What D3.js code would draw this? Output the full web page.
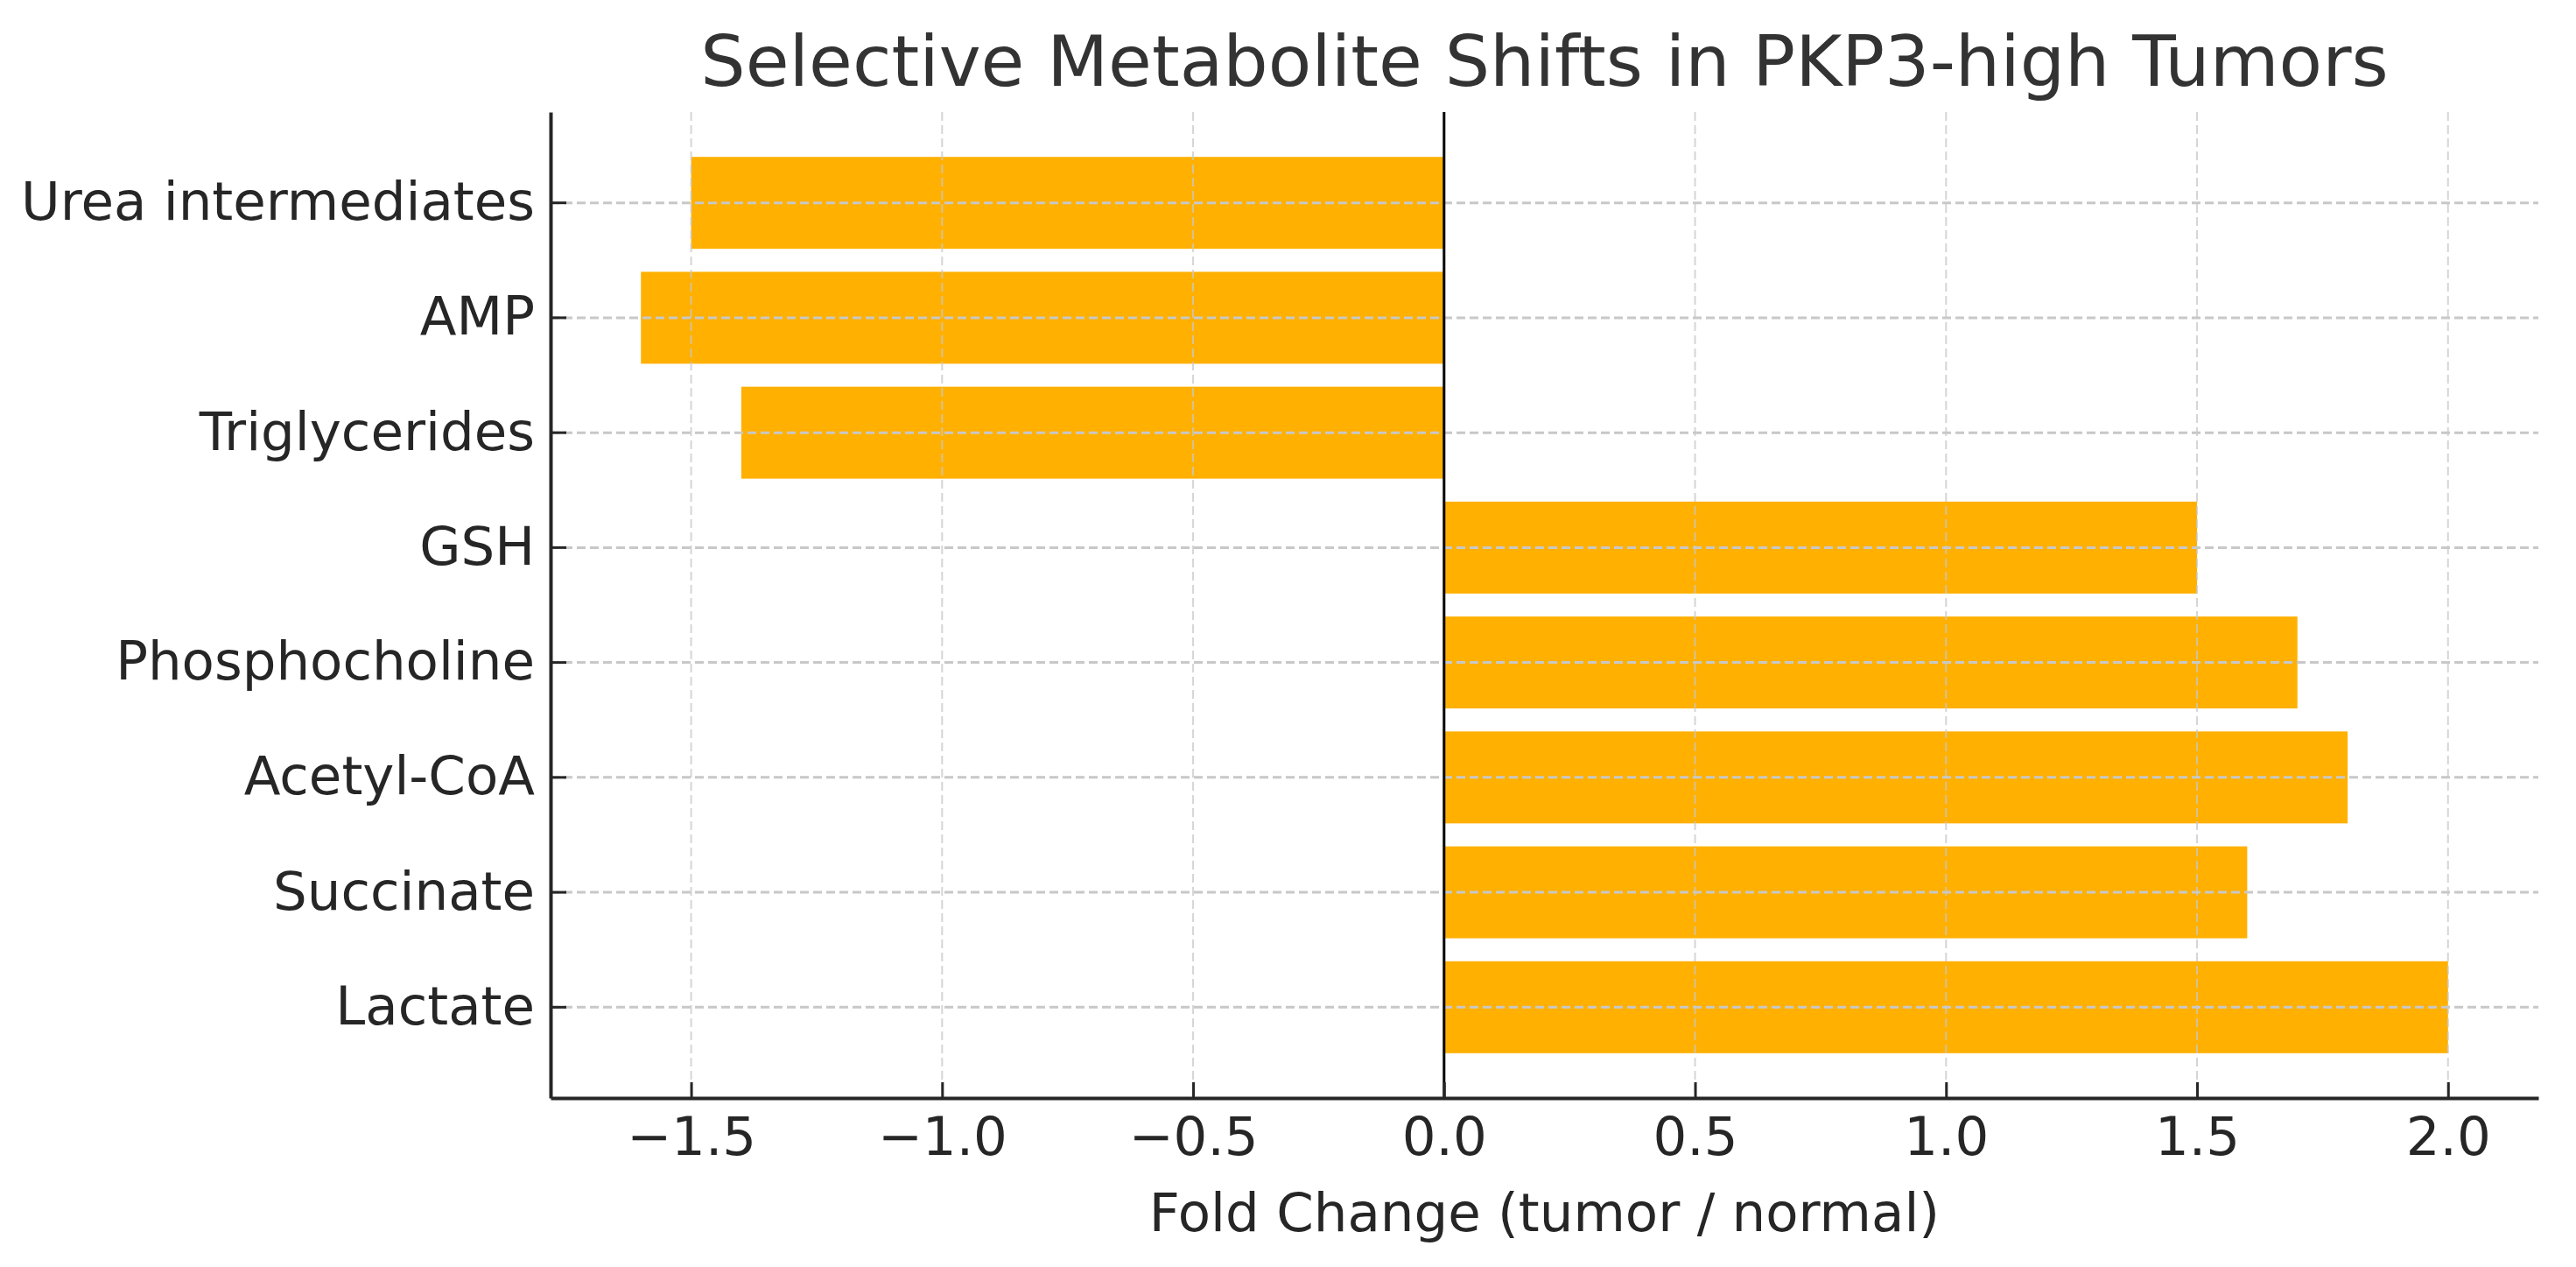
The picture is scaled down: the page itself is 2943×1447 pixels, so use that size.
<!DOCTYPE html>
<html>
<head>
<meta charset="utf-8">
<script src="https://cdn.jsdelivr.net/npm/d3@7"></script>
<style>
  body { margin: 0; background: #fff; }
  text { font-family: "DejaVu Sans", sans-serif; }
</style>
</head>
<body>
<svg id="chart" width="2943" height="1447"></svg>
<script>
// data, bottom to top as plotted
var metabolites = ["Lactate", "Succinate", "Acetyl-CoA", "Phosphocholine", "GSH", "Triglycerides", "AMP", "Urea intermediates"];
var foldChange = [2.0, 1.6, 1.8, 1.7, 1.5, -1.4, -1.6, -1.5];
var xTicks = [-1.5, -1.0, -0.5, 0.0, 0.5, 1.0, 1.5, 2.0];

var W = 2943, H = 1447;
var margin = {top: 128, right: 43, bottom: 193, left: 629};
var svg = d3.select("#chart");

var x = d3.scaleLinear().domain([-1.78, 2.18]).range([margin.left, W - margin.right]);
var y = d3.scaleBand()
  .domain(metabolites.slice().reverse())
  .range([margin.top, H - margin.bottom])
  .paddingInner(0.2)
  .paddingOuter(0.39);

var rows = metabolites.map(function (m, i) { return {name: m, value: foldChange[i]}; });

// bars
svg.append("g").selectAll("rect").data(rows).enter().append("rect")
  .attr("x", function (d) { return x(Math.min(0, d.value)); })
  .attr("y", function (d) { return y(d.name); })
  .attr("width", function (d) { return Math.abs(x(d.value) - x(0)); })
  .attr("height", y.bandwidth())
  .attr("fill", "#ffb000");

// grid (drawn above bars, like the original)
var grid = svg.append("g").attr("stroke", "#c8c8c8").attr("stroke-dasharray", "10,5");
grid.selectAll("line.v").data(xTicks).enter().append("line")
  .attr("class", "v")
  .attr("x1", function (d) { return x(d); }).attr("x2", function (d) { return x(d); })
  .attr("y1", margin.top).attr("y2", H - margin.bottom)
  .attr("stroke-width", 2).attr("opacity", 0.75);
grid.selectAll("line.h").data(metabolites).enter().append("line")
  .attr("class", "h")
  .attr("x1", margin.left).attr("x2", W - margin.right)
  .attr("y1", function (d) { return y(d) + y.bandwidth() / 2; })
  .attr("y2", function (d) { return y(d) + y.bandwidth() / 2; })
  .attr("stroke-width", 3);

// zero line
svg.append("line")
  .attr("x1", x(0)).attr("x2", x(0))
  .attr("y1", margin.top).attr("y2", H - margin.bottom)
  .attr("stroke", "#000").attr("stroke-width", 3);

// axes
var xAxis = d3.axisBottom(x).tickValues(xTicks)
  .tickFormat(function (d) { return d3.format(".1f")(d).replace("-", "\u2212"); })
  .tickSizeInner(-18).tickSizeOuter(0).tickPadding(22);
var gx = svg.append("g").attr("transform", "translate(0," + (H - margin.bottom) + ")").call(xAxis);

var yAxis = d3.axisLeft(y).tickSizeInner(-18).tickSizeOuter(0).tickPadding(18);
var gy = svg.append("g").attr("transform", "translate(" + margin.left + ",0)").call(yAxis);

[gx, gy].forEach(function (g) {
  g.select(".domain").attr("stroke", "#262626").attr("stroke-width", 4);
  g.selectAll(".tick line").attr("stroke", "#262626").attr("stroke-width", 3);
  g.selectAll(".tick text").attr("font-size", 61).attr("fill", "#262626")
    .attr("font-family", "DejaVu Sans");
});

// title and label
svg.append("text")
  .attr("x", (margin.left + W - margin.right) / 2).attr("y", 98)
  .attr("text-anchor", "middle").attr("font-size", 81).attr("fill", "#333")
  .text("Selective Metabolite Shifts in PKP3-high Tumors");

svg.append("text")
  .attr("x", (margin.left + W - margin.right) / 2).attr("y", 1406)
  .attr("text-anchor", "middle").attr("font-size", 61).attr("fill", "#262626")
  .text("Fold Change (tumor / normal)");
</script>
</body>
</html>
